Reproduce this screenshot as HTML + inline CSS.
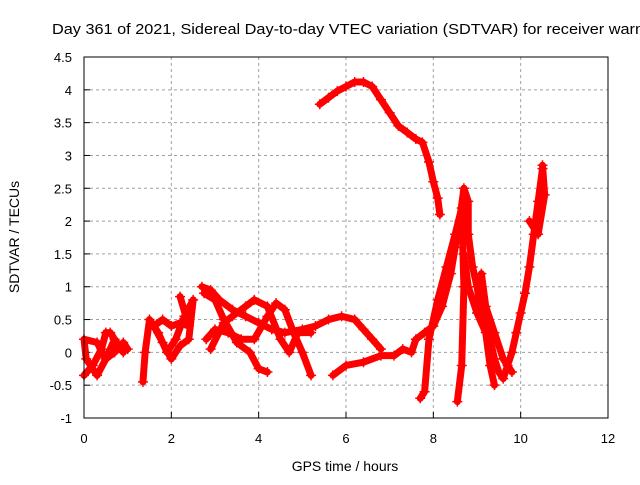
<!DOCTYPE html>
<html><head><meta charset="utf-8"><style>
body{margin:0;background:#fff}
svg{font-family:"Liberation Sans",sans-serif;font-size:13px}
</style></head><body>
<svg width="640" height="480">
<rect width="640" height="480" fill="#fff"/>
<text x="52" y="34" textLength="592" lengthAdjust="spacingAndGlyphs" style="font-size:15px">Day 361 of 2021, Sidereal Day-to-day VTEC variation (SDTVAR) for receiver warn</text>
<g id="grid"></g><g id="ticks"></g><g id="series"></g>
<rect x="84" y="57" width="524" height="361" fill="none" stroke="#000" stroke-width="1"/>
<text x="345" y="471" text-anchor="middle" style="font-size:14px">GPS time / hours</text>
<text transform="translate(19,237) rotate(-90)" text-anchor="middle" style="font-size:14px">SDTVAR / TECUs</text>
</svg>
<script>
const xTicks=[0,2,4,6,8,10,12];
const yTicks=[-1,-0.5,0,0.5,1,1.5,2,2.5,3,3.5,4,4.5];
const yTickLabels=["-1","-0.5","0","0.5","1","1.5","2","2.5","3","3.5","4","4.5"];
const trackArc=[[5.4,3.78],[5.6,3.88],[5.8,3.98],[6.0,4.05],[6.2,4.12],[6.4,4.12],[6.6,4.05],[6.8,3.85],[7.0,3.65],[7.2,3.45],[7.4,3.35],[7.6,3.25],[7.75,3.2],[7.9,2.9],[8.0,2.6],[8.1,2.35],[8.15,2.1]];
const trackA=[[0,-0.35],[0.2,-0.2],[0.4,0.05],[0.5,0.3],[0.6,0.3],[0.8,0.1],[1.0,0.05],[0.9,0.15],[0.7,0.0],[0.5,-0.1],[0.3,0.15],[0,0.2],[0.05,-0.1],[0.3,-0.35],[0.5,-0.1],[0.7,0.2],[0.9,0.0]];
const trackB=[[1.35,-0.45],[1.4,0.0],[1.5,0.5],[1.7,0.3],[1.9,0.0],[2.1,0.2],[2.3,0.55],[2.5,0.8],[2.4,0.2],[2.2,0.1],[2.0,-0.1],[1.8,0.15],[1.6,0.4],[1.8,0.5],[2.0,0.4],[2.2,0.45],[2.4,0.4],[2.2,0.85]];
const trackC=[[2.7,1.0],[2.9,0.95],[3.1,0.8],[3.4,0.65],[3.7,0.55],[4.0,0.45],[4.3,0.35],[4.6,0.3],[5.0,0.35],[5.3,0.4],[5.6,0.5],[5.9,0.55],[6.2,0.5],[6.4,0.35],[6.6,0.2],[6.8,0.05]];
const trackD=[[2.8,0.2],[3.0,0.35],[3.3,0.3],[3.6,0.2],[3.9,0.2],[4.2,0.55],[4.4,0.75],[4.6,0.65],[4.8,0.3],[5.0,0.0],[5.2,-0.35]];
const trackE=[[2.75,0.9],[3.0,0.8],[3.2,0.5],[3.5,0.15],[3.8,0.0],[4.0,-0.25],[4.2,-0.3]];
const trackF=[[2.9,0.05],[3.2,0.45],[3.4,0.55],[3.7,0.7],[3.9,0.8],[4.2,0.7],[4.5,0.2],[4.7,0.0],[4.9,0.3],[5.2,0.3]];
const trackG=[[5.7,-0.35],[6.0,-0.2],[6.4,-0.15],[6.8,-0.05],[7.1,-0.05],[7.3,0.05],[7.5,0.0],[7.6,0.2],[7.8,0.3],[8.0,0.4],[8.2,0.7],[8.4,1.2],[8.5,1.6],[8.6,2.0],[8.7,2.5],[8.8,2.3],[8.8,1.8],[8.9,1.3],[9.0,1.0],[9.1,0.6],[9.3,0.2],[9.4,-0.1],[9.5,-0.3],[9.6,-0.4],[9.7,-0.2],[9.8,0.0],[9.9,0.3],[10.0,0.6],[10.1,0.9],[10.2,1.3],[10.3,1.8],[10.4,2.3],[10.5,2.8]];
const trackH=[[7.7,-0.7],[7.8,-0.6],[7.9,0.2],[8.1,0.8],[8.3,1.3],[8.5,1.8],[8.65,2.2],[8.7,1.0],[8.65,-0.2],[8.55,-0.75]];
const trackI=[[8.7,1.5],[8.8,1.0],[9.0,0.6],[9.2,0.3],[9.3,-0.2],[9.4,-0.5]];
const trackJ=[[9.1,1.2],[9.2,0.7],[9.4,0.3],[9.6,-0.1],[9.8,-0.3]];
const trackK=[[10.2,2.0],[10.4,1.8],[10.55,2.4],[10.5,2.85]];
const tracks=[trackArc,trackA,trackB,trackC,trackD,trackE,trackF,trackG,trackH,trackI,trackJ,trackK];
const NS="http://www.w3.org/2000/svg";
const X=v=>84+v*(524/12), Y=v=>418-(v+1)*(361/5.5);
function mk(t,a,p){const e=document.createElementNS(NS,t);for(const k in a)e.setAttribute(k,a[k]);p.appendChild(e);return e;}
const grid=document.getElementById('grid'),ticks=document.getElementById('ticks'),ser=document.getElementById('series');
xTicks.forEach(t=>{
 if(t>0&&t<12){const l=mk('line',{x1:X(t),x2:X(t),y1:57,y2:418,stroke:'#a0a0a0','stroke-dasharray':'3,3'},grid);
 
 }
 const tx=mk('text',{x:X(t),y:443,'text-anchor':'middle'},ticks);tx.textContent=t;
 
 
 mk('line',{x1:X(t),x2:X(t),y1:418,y2:412,stroke:'#000'},ticks);
});
yTicks.forEach((t,i)=>{
 if(i>0&&i<yTicks.length-1){const l=mk('line',{x1:84,x2:608,y1:Y(t),y2:Y(t),stroke:'#a0a0a0','stroke-dasharray':'3,3'},grid);
 
 }
 const tx=mk('text',{x:72,y:Y(t)+5,'text-anchor':'end'},ticks);tx.textContent=yTickLabels[i];
 
 
 mk('line',{x1:84,x2:90,y1:Y(t),y2:Y(t),stroke:'#000'},ticks);
});
tracks.forEach(tr=>{
 const g=mk('g',{},ser);
 
 
 mk('polyline',{points:tr.map(p=>X(p[0])+','+Y(p[1])).join(' '),fill:'none',stroke:'#f00','stroke-width':7,'stroke-linejoin':'round','stroke-linecap':'round'},g);
 tr.forEach(p=>{const x=X(p[0]),y=Y(p[1]);
  mk('path',{d:`M${x-5},${y}h10M${x},${y-5}v10`,stroke:'#f00','stroke-width':1.5},g);});
});
</script>
</body></html>
